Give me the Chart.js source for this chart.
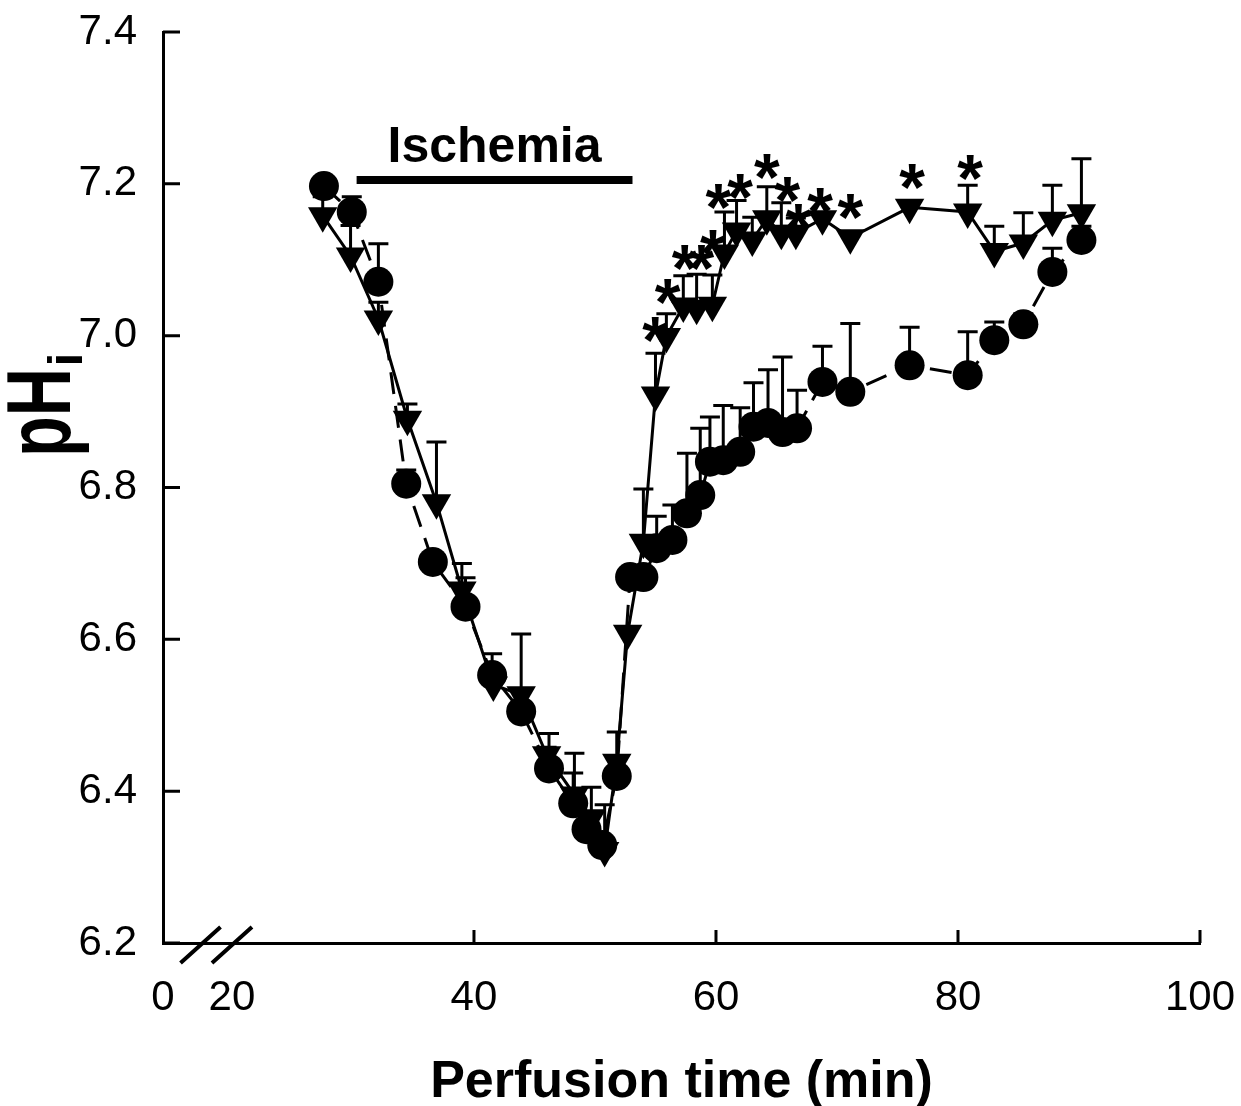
<!DOCTYPE html>
<html>
<head>
<meta charset="utf-8">
<script src="https://cdn.jsdelivr.net/npm/chart.js@4/dist/chart.umd.min.js"></script>
<style>
  html, body { margin: 0; padding: 0; background: #fff; }
  #c { display: block; }
</style>
</head>
<body>
<canvas id="c" width="1241" height="1106"></canvas>
<script>
// ---- axis setup ----
const X_MIN = 14.3;   // broken axis: left edge is labelled "0"
const X_MAX = 100;
const xTickValues = [14.3, 20, 40, 60, 80, 100];
const xTickLabels = ['0', '20', '40', '60', '80', '100'];
const xTickMarks  = [40, 60, 80, 100];
const yTickValues = [6.2, 6.4, 6.6, 6.8, 7.0, 7.2, 7.4];

// ---- circles (control) ----
const ctrlTime = [27.6, 29.9, 32.1, 34.4, 36.6, 39.3, 41.5, 43.9, 46.2, 48.2, 49.3, 50.6, 51.8, 52.9, 54.0,
                  55.1, 56.4, 57.6, 58.7, 59.5, 60.6, 62.0, 63.1, 64.3, 65.5, 66.7, 68.8, 71.1, 76.0, 80.8,
                  83.0, 85.4, 87.8, 90.2];
const ctrlPH   = [7.197, 7.163, 7.071, 6.805, 6.702, 6.643, 6.553, 6.505, 6.430, 6.384, 6.350, 6.329, 6.420, 6.682, 6.682,
                  6.720, 6.731, 6.766, 6.790, 6.834, 6.836, 6.847, 6.880, 6.885, 6.873, 6.878, 6.939, 6.926, 6.961, 6.948,
                  6.994, 7.015, 7.084, 7.126];
const ctrlSE   = [0, 0.020, 0.050, 0.018, 0, 0.038, 0.028, 0, 0.046, 0.040, 0.020, 0.010, 0, 0, 0,
                  0.042, 0.046, 0.079, 0.088, 0.059, 0.072, 0.058, 0.058, 0.070, 0.099, 0.050, 0.047, 0.090, 0.050, 0.057,
                  0.024, 0.014, 0.031, 0.018];

// ---- triangles (treated) ----
const trtTime = [27.5, 29.8, 32.1, 34.5, 36.9, 39.0, 41.6, 43.9, 46.0, 48.3, 49.7, 50.8, 51.8, 52.7, 54.0,
                 55.0, 55.9, 57.3, 58.4, 59.7, 60.7, 61.7, 63.0, 64.2, 65.4, 66.6, 68.8, 71.1, 76.0, 80.8,
                 83.0, 85.4, 87.8, 90.2];
const trtPH   = [7.158, 7.105, 7.022, 6.890, 6.780, 6.665, 6.540, 6.527, 6.448, 6.395, 6.365, 6.322, 6.438, 6.608, 6.728,
                 6.922, 6.999, 7.039, 7.036, 7.040, 7.109, 7.138, 7.126, 7.154, 7.135, 7.135, 7.154, 7.129, 7.169, 7.163,
                 7.111, 7.122, 7.152, 7.162];
const trtSE   = [0.025, 0.040, 0.022, 0.020, 0.080, 0.035, 0, 0.080, 0.010, 0.055, 0.040, 0.060, 0.040, 0, 0.070,
                 0.055, 0.030, 0.040, 0.045, 0.040, 0.054, 0.040, 0.030, 0.042, 0.040, 0.020, 0, 0, 0, 0.035,
                 0.033, 0.040, 0.046, 0.071];

// ---- significance marks ----
const starTime = [54.96, 56.0, 57.4, 58.8, 59.75, 60.2, 62.0, 64.2, 65.9, 66.8, 68.6, 71.1, 76.2, 81.0];
const starPH   = [7.007, 7.057, 7.102, 7.102, 7.122, 7.183, 7.196, 7.222, 7.192, 7.156, 7.178, 7.169, 7.209, 7.221];

// ---- ischemia period ----
const ischemiaStart = 30.3;
const ischemiaEnd   = 53.1;
const ischemiaLevel = 7.205;

const FONT = '"Liberation Sans", Arial, Helvetica, sans-serif';

function pts(xs, ys) {
  return xs.map((x, i) => ({ x, y: ys[i] }));
}

const decorPlugin = {
  id: 'decor',
  beforeDatasetsDraw(chart) {
    // error bars (upper only)
    const { ctx, scales: { x, y } } = chart;
    ctx.save();
    ctx.strokeStyle = '#000';
    ctx.lineWidth = 3;
    [[ctrlTime, ctrlPH, ctrlSE], [trtTime, trtPH, trtSE]].forEach(([ts, vs, se]) => {
      ts.forEach((t, i) => {
        if (!se[i]) return;
        const px = x.getPixelForValue(t);
        const p0 = y.getPixelForValue(vs[i]);
        const p1 = y.getPixelForValue(vs[i] + se[i]);
        ctx.beginPath();
        ctx.moveTo(px, p0); ctx.lineTo(px, p1);
        ctx.moveTo(px - 10, p1); ctx.lineTo(px + 10, p1);
        ctx.stroke();
      });
    });
    ctx.restore();
  },
  afterDatasetsDraw(chart) {
    const { ctx, scales: { x, y } } = chart;
    ctx.save();
    ctx.fillStyle = '#000';
    // asterisks
    const fs = 66;
    ctx.font = `bold ${fs}px ${FONT}`;
    ctx.textAlign = 'center';
    ctx.textBaseline = 'alphabetic';
    starTime.forEach((t, i) => {
      ctx.fillText('*', x.getPixelForValue(t), y.getPixelForValue(starPH[i]) + 0.5 * fs);
    });
    // ischemia label
    ctx.font = `bold 50px ${FONT}`;
    ctx.textBaseline = 'middle';
    ctx.fillText('Ischemia', x.getPixelForValue((ischemiaStart + ischemiaEnd) / 2),
                 y.getPixelForValue(ischemiaLevel) - 32);
    ctx.restore();
  },
  afterDraw(chart) {
    const { ctx, chartArea, scales: { x, y } } = chart;
    ctx.save();
    ctx.strokeStyle = '#000';
    ctx.lineWidth = 3;
    // inward tick marks
    ctx.beginPath();
    yTickValues.forEach(v => {
      const py = y.getPixelForValue(v);
      ctx.moveTo(chartArea.left, py); ctx.lineTo(chartArea.left + 17, py);
    });
    xTickMarks.forEach(v => {
      const px = x.getPixelForValue(v);
      ctx.moveTo(px, chartArea.bottom); ctx.lineTo(px, chartArea.bottom - 13);
    });
    ctx.stroke();
    // axis break
    ctx.lineWidth = 4;
    ctx.beginPath();
    [17.4, 20].forEach(v => {
      const cx = x.getPixelForValue(v), cy = chartArea.bottom + 2;
      ctx.moveTo(cx - 20, cy + 18); ctx.lineTo(cx + 20, cy - 18);
    });
    ctx.stroke();
    // y title: pH with subscript i
    ctx.fillStyle = '#000';
    ctx.translate(chartArea.left - 93, 457);
    ctx.rotate(-Math.PI / 2);
    ctx.textAlign = 'left';
    ctx.textBaseline = 'alphabetic';
    ctx.save();
    ctx.scale(0.74, 1);
    ctx.font = `bold 90px ${FONT}`;
    ctx.fillText('pH', 0, 0);
    const w = ctx.measureText('pH').width * 0.74;
    ctx.restore();
    ctx.font = `bold 48px ${FONT}`;
    ctx.fillText('i', w + 2, 12);
    ctx.restore();
  }
};

new Chart(document.getElementById('c'), {
  type: 'scatter',
  data: {
    datasets: [
      {
        data: [{ x: ischemiaStart, y: ischemiaLevel }, { x: ischemiaEnd, y: ischemiaLevel }],
        showLine: true, borderColor: '#000', borderWidth: 8, borderCapStyle: 'butt', pointRadius: 0
      },
      {
        data: pts(ctrlTime, ctrlPH),
        showLine: true, borderColor: '#000', borderWidth: 3, borderDash: [22, 12],
        pointStyle: 'circle', pointRadius: 15, pointBackgroundColor: '#000', pointBorderWidth: 0
      },
      {
        data: pts(trtTime, trtPH),
        showLine: true, borderColor: '#000', borderWidth: 3,
        pointStyle: 'triangle', pointRotation: 180, pointRadius: 17,
        pointBackgroundColor: '#000', pointBorderWidth: 0
      }
    ]
  },
  options: {
    responsive: false,
    animation: false,
    devicePixelRatio: 1,
    layout: { padding: { left: 0, right: 41, top: 32, bottom: 0 } },
    plugins: { legend: { display: false }, tooltip: { enabled: false } },
    scales: {
      x: {
        type: 'linear', min: X_MIN, max: X_MAX,
        afterBuildTicks: s => { s.ticks = xTickValues.map(v => ({ value: v })); },
        afterFit: s => { s.height = 163; s.paddingLeft = 0; s.paddingRight = 0; },
        grid: { display: false, drawTicks: false },
        border: { display: true, color: '#000', width: 3 },
        ticks: {
          color: '#000', font: { family: FONT, size: 42 }, padding: 30,
          maxRotation: 0, autoSkip: false,
          callback: (v, i) => xTickLabels[i]
        },
        title: {
          display: true, text: 'Perfusion time (min)', color: '#000',
          font: { family: FONT, size: 52, weight: 'bold', lineHeight: 0.9 }, padding: { top: 0, bottom: 0 }
        }
      },
      y: {
        min: 6.2, max: 7.4,
        afterBuildTicks: s => { s.ticks = yTickValues.map(v => ({ value: v })); },
        afterFit: s => { s.width = 163; s.paddingTop = 0; s.paddingBottom = 0; },
        grid: { display: false, drawTicks: false },
        border: { display: true, color: '#000', width: 3 },
        ticks: {
          color: '#000', font: { family: FONT, size: 42 }, padding: 26,
          callback: v => v.toFixed(1)
        }
      }
    }
  },
  plugins: [decorPlugin]
});
</script>
</body>
</html>
